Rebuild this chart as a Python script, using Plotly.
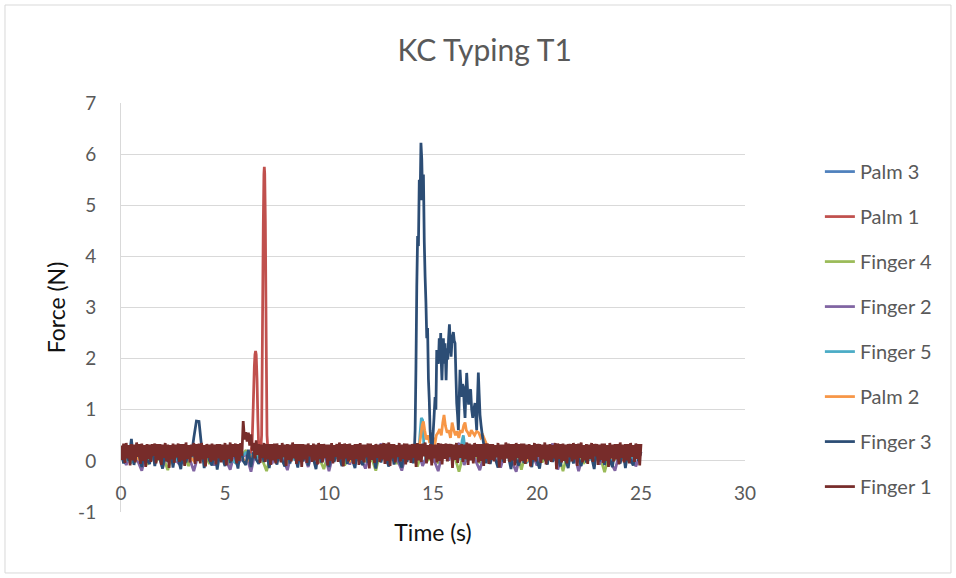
import numpy as np
import plotly.graph_objects as go

# ---- Force readings (N) for each sensor, sampled uniformly over 0-25 s ----
# None marks samples covered by the finer-resolution event samples below.
N = None

PALM3 = [0.12, 0.2, -0.02, 0.25, 0.05, 0.18, -0.04, 0.22, 0.08, 0.15,
         0.27, -0.01, 0.19, 0.06, 0.24, 0.0, 0.16, 0.21, -0.03, 0.26,
         0.09, 0.13, 0.23, -0.02, 0.17, 0.07, 0.25, 0.02, 0.2, -0.04,
         0.14, 0.22, 0.05, 0.18, 0.26, -0.01, 0.11, 0.24, 0.03, 0.19,
         0.08, 0.21, -0.03, 0.16, 0.27, 0.04, 0.2, 0.1, 0.23, -0.02, 0.15]

PALM1 = [0.1, 0.22, 0.03, 0.18, 0.26, -0.02, 0.2, 0.07, 0.15, 0.24,
         0.01, 0.19, 0.12, N, N, 0.21, 0.05, 0.17, 0.25, -0.03,
         0.14, 0.23, 0.06, 0.2, 0.0, 0.18, 0.27, 0.04, 0.16, 0.22,
         -0.01, 0.13, 0.24, 0.08, 0.19, 0.02, 0.26, 0.11, 0.17, -0.02,
         0.21, 0.07, 0.25, 0.03, 0.15, 0.2, 0.09, 0.23, -0.01, 0.18, 0.12]
PALM1_EVENT_T = [6.2, 6.3, 6.36, 6.41, 6.44, 6.47, 6.5, 6.54, 6.58, 6.63, 6.7,
                 6.76, 6.8, 6.84, 6.87, 6.89, 6.91, 6.94, 6.98, 7.02, 7.08]
PALM1_EVENT_V = [0.1, 0.3, 1.1, 1.85, 2.08, 2.15, 2.08, 1.6, 0.8, 0.15, 0.05,
                 0.5, 2.5, 4.6, 5.6, 5.75, 5.62, 4.7, 2.4, 0.5, 0.08]

FINGER4 = [0.15, -0.05, 0.22, 0.04, 0.18, -0.08, 0.25, 0.02, 0.12, -0.18,
           0.2, 0.06, 0.16, -0.1, 0.23, 0.0, 0.19, -0.06, 0.14, 0.08,
           0.24, -0.12, 0.17, 0.03, 0.21, -0.04, 0.13, 0.07, -0.2, 0.22,
           0.01, 0.18, -0.07, 0.25, 0.05, 0.15, -0.03, 0.2, 0.09, -0.16,
           0.19, 0.02, 0.23, -0.09, 0.16, 0.06, 0.21, -0.02, 0.12, -0.19,
           0.24, 0.04, 0.17, -0.06, 0.2, 0.08, 0.14, -0.11, 0.22, 0.0,
           0.18, -0.05, 0.25, 0.03, 0.15, -0.21, 0.2, 0.07, 0.13, -0.04,
           0.23, 0.01, 0.19, -0.08, 0.16, 0.06, 0.21, -0.17, 0.24, 0.02,
           0.14, -0.03, 0.22, 0.05, 0.18, -0.2, 0.2, 0.09, 0.16, -0.06,
           0.25, 0.0, 0.13, -0.22, 0.19, 0.04, 0.23, -0.05, 0.17, 0.08, 0.2]

FINGER2 = [0.2, -0.08, 0.16, 0.05, -0.19, 0.23, 0.02, 0.18, -0.14, 0.25,
           0.07, -0.04, 0.21, 0.1, -0.2, 0.17, 0.03, 0.24, -0.09, 0.19,
           0.06, -0.17, 0.22, 0.01, 0.15, -0.21, 0.26, 0.04, 0.18, -0.06,
           0.2, 0.09, -0.18, 0.23, 0.0, 0.16, -0.12, 0.25, 0.05, 0.19,
           -0.2, 0.21, 0.03, 0.17, -0.07, 0.24, 0.08, -0.15, 0.2, 0.02,
           0.34, -0.05, 0.18, 0.06, -0.19, 0.22, 0.04, 0.26, -0.1, 0.15,
           0.07, -0.2, 0.23, 0.01, 0.19, 0.35, -0.08, 0.21, 0.05, -0.18,
           0.17, 0.09, 0.25, -0.13, 0.2, 0.03, -0.21, 0.22, 0.06, 0.16,
           -0.09, 0.24, 0.02, 0.34, -0.17, 0.19, 0.08, 0.21, -0.2, 0.15,
           0.05, 0.23, -0.07, 0.18, 0.01, -0.19, 0.22, 0.04, 0.26, -0.11, 0.17]

FINGER5 = [0.1, -0.03, 0.15, 0.05, 0.2, -0.02, 0.12, 0.08, 0.18, 0.0,
           0.14, -0.04, 0.16, 0.06, 0.21, 0.02, 0.11, -0.01, 0.17, 0.07,
           0.13, 0.03, 0.19, -0.02, 0.15, 0.09, 0.12, 0.04, 0.18, N,
           0.14, 0.06, 0.1, N, 0.16, 0.01, 0.2, 0.07, 0.13, -0.03,
           0.17, 0.05, 0.11, 0.08, 0.19, 0.02, 0.14, -0.01, 0.16, 0.06, 0.12]
FINGER5_EVENT_T = [14.3, 14.38, 14.44, 14.5, 14.56, 14.65,
                   16.3, 16.4, 16.46, 16.52, 16.6]
FINGER5_EVENT_V = [0.1, 0.55, 0.84, 0.8, 0.3, 0.05,
                   0.05, 0.4, 0.5, 0.3, 0.02]

PALM2 = [0.08, 0.16, -0.02, 0.2, 0.05, 0.13, 0.22, 0.0, 0.17, 0.07,
         0.11, 0.24, -0.03, 0.18, 0.09, 0.15, 0.21, 0.02, 0.14, 0.19,
         0.06, 0.23, -0.01, 0.16, 0.1, 0.2, 0.04, 0.12, 0.18, N,
         N, N, N, N, N, N, 0.14, 0.07, 0.21, 0.0,
         0.17, 0.11, 0.23, -0.02, 0.15, 0.08, 0.19, 0.05, 0.13, 0.2, 0.1]
PALM2_EVENT_T = [14.2, 14.3, 14.4, 14.48, 14.54, 14.6, 14.68, 14.76, 14.84, 14.92,
                 15.0, 15.08, 15.16, 15.24, 15.32, 15.4, 15.47, 15.53, 15.6, 15.68,
                 15.76, 15.84, 15.92, 16.0, 16.08, 16.16, 16.24, 16.32, 16.4, 16.48,
                 16.54, 16.6, 16.68, 16.76, 16.84, 16.92, 17.0, 17.1, 17.2, 17.3,
                 17.4, 17.5, 17.6, 17.7, 17.8]
PALM2_EVENT_V = [0.15, 0.2, 0.45, 0.7, 0.77, 0.6, 0.42, 0.5, 0.35, 0.55,
                 0.45, 0.3, 0.5, 0.55, 0.62, 0.5, 0.75, 0.9, 0.68, 0.55,
                 0.6, 0.45, 0.75, 0.6, 0.5, 0.58, 0.45, 0.6, 0.55, 0.7,
                 0.75, 0.6, 0.55, 0.48, 0.6, 0.55, 0.5, 0.58, 0.55, 0.45,
                 0.5, 0.4, 0.3, 0.2, 0.1]

FINGER3 = [0.2, -0.05, 0.25, 0.0, 0.43, -0.08, 0.22, 0.1, -0.12, 0.24,
           0.02, -0.06, 0.27, -0.1, 0.18, 0.05, -0.15, 0.21, -0.02, 0.26,
           -0.13, 0.19, 0.04, -0.16, 0.23, -0.03, 0.2, 0.08, 0.45, 0.78,
           0.77, 0.28, -0.14, 0.22, 0.01, -0.09, 0.25, -0.17, 0.15, 0.06,
           -0.1, 0.24, -0.04, 0.2, 0.07, -0.15, 0.26, 0.0, -0.08, 0.22,
           -0.12, 0.18, 0.03, -0.06, 0.25, -0.02, 0.21, -0.14, 0.16, 0.05,
           -0.07, 0.23, 0.01, -0.11, 0.27, -0.05, 0.19, 0.08, -0.13, 0.24,
           -0.01, 0.2, -0.09, 0.26, 0.04, -0.16, 0.22, -0.03, 0.17, 0.07,
           -0.12, 0.25, -0.02, 0.21, 0.06, -0.1, 0.28, -0.06, 0.18, 0.02,
           -0.14, 0.23, 0.0, -0.08, 0.26, -0.04, 0.2, 0.09, -0.15, 0.24,
           -0.03, 0.19, 0.05, -0.11, 0.27, -0.07, 0.22, 0.01, -0.13, 0.25,
           -0.02, 0.2, *([N] * 8),
           *([N] * 20),
           N, 0.22, -0.06, 0.18, 0.03, -0.13, 0.25, -0.01, 0.2, 0.08,
           -0.16, 0.23, 0.02, -0.09, 0.26, -0.04, 0.19, 0.06, -0.12, 0.24,
           0.0, -0.15, 0.21, 0.05, -0.07, 0.27, -0.02, 0.18, 0.09, -0.11,
           0.23, 0.01, -0.14, 0.2, -0.05, 0.25, 0.04, -0.1, 0.22, -0.03,
           0.17, 0.07, -0.16, 0.24, -0.01, 0.2, -0.08, 0.26, 0.03, -0.12,
           0.21, 0.06, -0.05, 0.23, -0.14, 0.19, 0.02, -0.09, 0.25, 0.0, 0.18]
FINGER3_EVENT_T = [14.0, 14.05, 14.1, 14.14, 14.18, 14.22, 14.26, 14.3, 14.34, 14.38,
                   14.42, 14.46, 14.5, 14.54, 14.58, 14.62, 14.66, 14.7, 14.74, 14.78,
                   14.82, 14.86, 14.9, 14.95, 15.0, 15.05, 15.1, 15.14, 15.18, 15.22,
                   15.26, 15.3, 15.34, 15.37, 15.4, 15.43, 15.47, 15.5, 15.54, 15.58,
                   15.63, 15.67, 15.71, 15.75, 15.79, 15.83, 15.87, 15.92, 15.98, 16.02,
                   16.06, 16.1, 16.14, 16.18, 16.22, 16.26, 16.3, 16.34, 16.38, 16.42,
                   16.46, 16.5, 16.54, 16.58, 16.62, 16.66, 16.71, 16.76, 16.81, 16.86,
                   16.91, 16.96, 17.02, 17.06, 17.1, 17.14, 17.18, 17.22, 17.26, 17.31,
                   17.37, 17.43, 17.5, 17.56]
FINGER3_EVENT_V = [0.2, -0.05, 0.15, 0.6, 1.8, 3.4, 4.4, 4.2, 5.5, 5.1,
                   6.22, 5.9, 5.1, 5.6, 4.3, 3.6, 3.1, 2.4, 2.6, 1.6,
                   1.2, 0.6, 0.35, 0.15, 0.5, 0.85, 1.25, 1.0, 2.17, 1.95,
                   1.9, 2.4, 2.0, 2.5, 1.9, 1.58, 2.1, 2.4, 1.9, 2.3,
                   1.58, 2.2, 1.98, 2.4, 2.67, 2.3, 2.04, 2.4, 2.52, 2.35,
                   2.3, 1.7, 1.13, 0.9, 0.6, 1.2, 1.78, 1.5, 1.25, 1.5,
                   1.45, 1.1, 0.84, 1.3, 1.72, 1.4, 1.1, 1.35, 1.4, 1.0,
                   0.84, 1.0, 1.13, 0.85, 0.6, 1.2, 1.73, 1.3, 0.9, 0.7,
                   0.5, 0.35, 0.15, -0.05]

FINGER1 = [0.30, 0.02, 0.34, -0.04, 0.35, 0.05, 0.31, -0.09, 0.33, 0.01,
           0.32, -0.03, 0.36, 0.08, 0.33, -0.06, 0.34, 0.0, 0.31, -0.12,
           0.33, 0.04, 0.32, -0.02, 0.33, 0.1, 0.34, -0.05, 0.33, 0.02,
           0.33, -0.08, 0.32, 0.06, 0.35, -0.01, 0.32, -0.14, 0.31, 0.03,
           0.34, -0.04, 0.32, 0.07, 0.34, -0.02, 0.33, 0.01, 0.33, -0.1,
           0.36, 0.04, 0.31, -0.03, 0.32, 0.09, 0.35, -0.06, 0.33, 0.0,
           0.34, -0.05, 0.35, 0.03, 0.31, -0.11, 0.33, 0.06, 0.32, -0.02,
           0.34, 0.01, 0.32, -0.07, 0.33, 0.05, 0.33, -0.03, 0.32, 0.02,
           0.35, -0.09, 0.32, 0.04, 0.36, -0.01, 0.33, 0.08, 0.34, -0.05,
           0.33, 0.0, 0.35, 0.1, 0.78, 0.42, 0.56, 0.38, 0.55, 0.3,
           0.52, 0.2, 0.35, 0.05, 0.4, 0.12, 0.33, -0.04, 0.32, 0.06,
           0.35, -0.02, 0.33, 0.03, 0.33, -0.08, 0.33, 0.01, 0.34, -0.05,
           0.34, 0.04, 0.31, -0.03, 0.35, 0.07, 0.32, -0.1, 0.33, 0.02,
           0.32, -0.01, 0.36, 0.05, 0.33, -0.06, 0.33, 0.0, 0.33, -0.12,
           0.33, 0.03, 0.32, -0.04, 0.34, 0.09, 0.31, -0.02, 0.34, 0.01,
           0.32, -0.07, 0.35, 0.04, 0.33, -0.03, 0.33, 0.06, 0.32, -0.09,
           0.32, 0.0, 0.35, -0.05, 0.31, 0.08, 0.33, -0.02, 0.36, 0.03,
           0.33, -0.11, 0.34, 0.05, 0.33, -0.01, 0.34, 0.02, 0.31, -0.06,
           0.33, 0.04, 0.33, -0.08, 0.35, 0.01, 0.32, -0.03, 0.32, 0.07,
           0.34, -0.15, 0.34, 0.02, 0.31, -0.04, 0.33, 0.06, 0.32, -0.02,
           0.33, 0.03, 0.35, -0.06, 0.34, 0.0, 0.36, -0.1, 0.33, 0.05,
           0.33, -0.03, 0.31, 0.08, 0.35, -0.01, 0.32, 0.04, 0.34, -0.07,
           0.34, 0.02, 0.32, -0.04, 0.33, 0.06, 0.33, -0.12, 0.35, 0.01,
           0.33, -0.02, 0.34, 0.09, 0.36, -0.05, 0.31, 0.03, 0.33, -0.09,
           0.32, 0.05, 0.32, -0.03, 0.35, 0.0, 0.34, -0.07, 0.33, 0.04,
           0.34, -0.01, 0.33, 0.07, 0.33, -0.14, 0.32, 0.02, 0.35, -0.04,
           0.31, 0.06, 0.33, -0.02, 0.32, 0.03, 0.36, -0.08, 0.34, 0.01,
           0.32, -0.05, 0.35, 0.08, 0.33, -0.03, 0.33, 0.0, 0.33, -0.1,
           0.34, 0.04, 0.34, -0.06, 0.33, 0.02, 0.33, -0.01, 0.31, 0.07,
           0.35, -0.13, 0.32, 0.03, 0.32, -0.04, 0.36, 0.05, 0.34, -0.02,
           0.33, 0.01, 0.33, -0.09, 0.35, 0.06, 0.33, -0.03, 0.34, 0.0,
           0.34, -0.06, 0.32, 0.04, 0.33, -0.11, 0.31, 0.02, 0.35, -0.01,
           0.33, 0.08, 0.33, -0.04, 0.32, 0.03, 0.36, -0.07, 0.32, 0.01,
           0.33, -0.02, 0.31, 0.05, 0.35, -0.16, 0.34, 0.04, 0.33, -0.03,
           0.34, 0.0, 0.32, -0.05, 0.33, 0.07, 0.33, -0.01, 0.35, 0.03,
           0.33, -0.1, 0.34, 0.06, 0.36, -0.03, 0.31, 0.01, 0.33, -0.06,
           0.32, 0.04, 0.35, -0.02, 0.33, 0.09, 0.33, -0.08, 0.32, 0.02,
           0.34, -0.04, 0.34, 0.0, 0.31, -0.12, 0.35, 0.05, 0.32, -0.01,
           0.33, 0.03, 0.33, -0.07, 0.36, 0.06, 0.32, -0.03, 0.33, 0.01,
           0.33, -0.05, 0.35, 0.08, 0.31, -0.02, 0.34, 0.04, 0.33, -0.09,
           0.33]

T_END = 25.0

SERIES = [
    ("Palm 3", PALM3, None, None, "#4F81BD"),
    ("Palm 1", PALM1, PALM1_EVENT_T, PALM1_EVENT_V, "#C0504D"),
    ("Finger 4", FINGER4, None, None, "#9BBB59"),
    ("Finger 2", FINGER2, None, None, "#8064A2"),
    ("Finger 5", FINGER5, FINGER5_EVENT_T, FINGER5_EVENT_V, "#4BACC6"),
    ("Palm 2", PALM2, PALM2_EVENT_T, PALM2_EVENT_V, "#F79646"),
    ("Finger 3", FINGER3, FINGER3_EVENT_T, FINGER3_EVENT_V, "#2C4D75"),
    ("Finger 1", FINGER1, None, None, "#772C2A"),
]

Y_TICKS = [-1, 0, 1, 2, 3, 4, 5, 6, 7]
Y_TICK_TEXT = ["-1", "0", "1", "2", "3", "4", "5", "6", "7"]
X_TICKS = [0, 5, 10, 15, 20, 25, 30]


def assemble(base, ev_t, ev_v):
    """Combine the uniform record with any finer event samples, in time order."""
    t = np.linspace(0.0, T_END, len(base))
    pts = [(ti, v) for ti, v in zip(t, base) if v is not None]
    if ev_t is not None:
        pts += list(zip(ev_t, ev_v))
    pts.sort(key=lambda p: p[0])
    return [p[0] for p in pts], [p[1] for p in pts]


fig = go.Figure()
for name, base, ev_t, ev_v, color in SERIES:
    x, y = assemble(base, ev_t, ev_v)
    fig.add_trace(go.Scatter(
        x=x, y=y, mode="lines", name=name, legendgroup=name,
        line=dict(color=color, width=2.75, simplify=False),
    ))

GRID = "#D9D9D9"
TEXT = "#595959"

fig.update_layout(
    width=956, height=578,
    margin=dict(l=121, r=211, t=103, b=66),
    paper_bgcolor="white", plot_bgcolor="white",
    font=dict(family="Lato", color=TEXT, size=19),
    title=dict(text="KC Typing T1", x=0.507, xanchor="center",
               y=0.913, yanchor="middle",
               font=dict(family="Lato", size=30, color=TEXT)),
    showlegend=True,
    legend=dict(x=1.12, xanchor="left", y=0.88, yanchor="top",
                font=dict(size=20, color=TEXT), tracegroupgap=16,
                bgcolor="rgba(0,0,0,0)"),
    xaxis=dict(range=[0, 30], tickvals=X_TICKS,
               showgrid=False, zeroline=False, showline=False, ticks="",
               anchor="free", position=0.078,
               tickfont=dict(size=19, color=TEXT),
               title=dict(text="Time (s)", standoff=21,
                          font=dict(size=23, color="#111111"))),
    yaxis=dict(range=[-1, 7], tickvals=Y_TICKS, ticktext=Y_TICK_TEXT,
               showgrid=True, gridcolor=GRID,
               gridwidth=1, zeroline=False, showline=True, linecolor=GRID,
               linewidth=1, ticks="", ticklabelstandoff=20,
               tickfont=dict(size=19, color=TEXT),
               title=dict(text="Force (N)", standoff=6,
                          font=dict(size=23, color="#111111"))),
    shapes=[dict(type="rect", xref="paper", yref="paper",
                 x0=-0.1859, x1=1.3301, y0=-0.1491, y1=1.2396,
                 line=dict(color=GRID, width=1), fillcolor="rgba(0,0,0,0)",
                 layer="below")],
)

fig.write_html("out.html")
